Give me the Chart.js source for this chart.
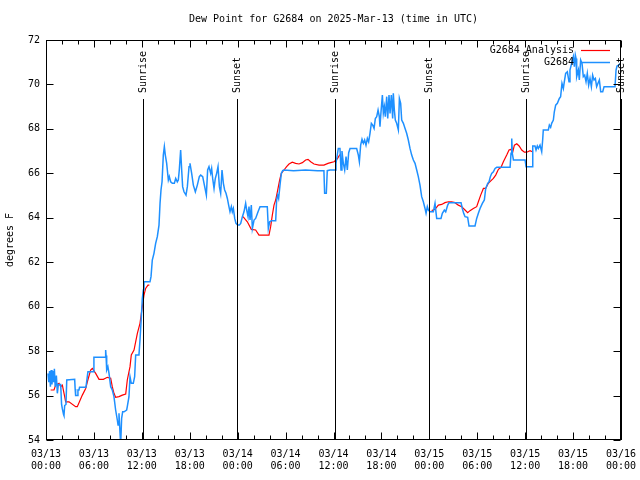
<!DOCTYPE html>
<html>
<head>
<meta charset="utf-8">
<script src="https://cdn.jsdelivr.net/npm/chart.js@4.4.1/dist/chart.umd.min.js"></script>
<style>
  html, body { margin: 0; padding: 0; background: #fff; }
  canvas { display: block; }
</style>
</head>
<body>
<canvas id="dew" width="640" height="480"></canvas>
<script>
const FONT = '"DejaVu Sans Mono", "Liberation Mono", monospace';
const TITLE = 'Dew Point for G2684 on 2025-Mar-13 (time in UTC)';

// x axis is hours since 03/13 00:00 UTC
const dayLabels = ['03/13', '03/14', '03/15', '03/16'];

const sunHours = [12.17, 23.96, 36.14, 47.98, 60.11, 71.98];
const sunLabels = ['Sunrise', 'Sunset', 'Sunrise', 'Sunset', 'Sunrise', 'Sunset'];

// G2684 observations
const obsHours = [
  0.25, 0.35, 0.45, 0.55, 0.65, 0.75, 0.85, 0.95, 1.05, 1.15, 1.3, 1.42, 1.55, 1.84, 1.95, 2.05, 2.2, 2.25, 2.34, 2.5,
  2.6, 3.59, 3.65, 3.71, 3.92, 4.0, 4.13, 4.2, 5.0, 5.09, 5.25, 5.93, 6.0, 7.39, 7.47, 7.52, 7.6, 7.75, 7.89, 8.1,
  8.3, 8.51, 8.72, 8.93, 9.02, 9.14, 9.27, 9.35, 9.47, 9.6, 9.77, 10.1, 10.18, 10.39, 10.52, 10.68, 10.93, 11.1, 11.23, 11.64,
  11.77, 11.94, 12.06, 12.19, 12.27, 13.02, 13.15, 13.31, 13.52, 13.73, 13.94, 14.15, 14.28, 14.4, 14.53, 14.69, 14.82, 14.94, 15.11, 15.32,
  15.44, 15.61, 15.82, 16.07, 16.24, 16.44, 16.57, 16.69, 16.86, 16.99, 17.11, 17.28, 17.53, 17.7, 17.91, 18.03, 18.24, 18.45, 18.7, 18.95,
  19.2, 19.37, 19.62, 19.87, 20.08, 20.24, 20.41, 20.62, 20.74, 20.87, 21.04, 21.2, 21.37, 21.54, 21.71, 21.87, 22.04, 22.21, 22.37, 22.54,
  22.71, 22.87, 23.04, 23.21, 23.33, 23.46, 23.63, 23.79, 24.0, 24.21, 24.38, 24.59, 24.79, 25.0, 25.13, 25.3, 25.42, 25.55, 25.71, 25.84,
  26.05, 26.25, 26.55, 26.8, 27.71, 27.84, 28.01, 28.22, 28.76, 28.88, 29.01, 29.13, 29.3, 29.47, 29.64, 29.8, 31.0, 32.5, 34.0, 34.8,
  34.89, 35.1, 35.22, 35.56, 36.19, 36.31, 36.6, 36.81, 36.94, 37.06, 37.23, 37.4, 37.57, 37.73, 37.9, 38.07, 38.9, 39.11, 39.24, 39.4,
  39.57, 39.74, 39.9, 40.07, 40.24, 40.4, 40.57, 40.74, 40.91, 41.08, 41.24, 41.41, 41.58, 41.74, 41.82, 41.95, 42.12, 42.24, 42.37, 42.49,
  42.66, 42.79, 42.95, 43.08, 43.24, 43.41, 43.49, 43.62, 43.74, 43.91, 44.12, 44.25, 44.41, 44.54, 44.75, 44.95, 45.16, 45.37, 45.58, 45.79,
  46.0, 46.21, 46.42, 46.62, 46.83, 47.04, 47.25, 47.46, 47.59, 47.75, 47.88, 48.09, 48.5, 48.71, 48.92, 49.46, 49.63, 49.88, 50.05, 50.3,
  50.46, 51.97, 52.13, 52.3, 52.47, 52.8, 52.97, 53.72, 53.93, 54.14, 54.35, 54.64, 54.89, 55.06, 55.31, 55.48, 55.64, 55.81, 56.02, 56.23,
  56.44, 58.11, 58.23, 58.32, 58.4, 58.53, 59.99, 60.11, 60.9, 60.95, 61.23, 61.36, 61.52, 61.65, 61.86, 62.07, 62.19, 62.27, 62.9, 63.03,
  63.19, 63.32, 63.53, 63.65, 63.82, 64.03, 64.28, 64.44, 64.61, 64.78, 64.9, 65.07, 65.28, 65.49, 65.61, 65.82, 66.03, 66.16, 66.28, 66.37,
  66.45, 66.66, 66.78, 66.95, 67.12, 67.28, 67.45, 67.62, 67.78, 67.95, 68.12, 68.29, 68.45, 68.62, 68.79, 68.95, 69.12, 69.29, 69.46, 69.71,
  69.88, 71.25, 71.38, 71.5, 71.71, 71.96
];
const obsDew = [
  57.0, 56.6, 57.1, 56.4, 57.15, 56.5, 57.1, 56.6, 57.2, 56.4, 56.9, 56.1, 56.5, 56.5, 55.6, 55.4, 55.15, 55.1, 55.55, 55.6,
  56.7, 56.73, 56.3, 56.0, 56.0, 56.25, 56.25, 56.37, 56.37, 56.62, 57.07, 57.07, 57.72, 57.72, 58.05, 57.8, 57.15, 57.3, 57.0, 56.4,
  56.25, 55.95, 55.35, 54.9, 54.67, 55.2, 54.3, 53.8, 54.97, 55.27, 55.27, 55.35, 55.5, 55.95, 56.85, 56.55, 56.55, 56.85, 57.83, 57.83,
  58.5, 59.55, 60.37, 60.75, 61.12, 61.12, 61.35, 62.1, 62.4, 62.85, 63.15, 63.67, 64.65, 65.25, 65.62, 66.82, 67.2, 66.82, 66.45, 65.7,
  65.85, 65.62, 65.55, 65.55, 65.77, 65.62, 65.7, 66.15, 67.05, 66.15, 65.4, 65.17, 65.02, 65.4, 66.3, 66.45, 66.0, 65.47, 65.17, 65.47,
  65.85, 65.92, 65.85, 65.4, 65.02, 66.15, 66.3, 66.0, 66.22, 65.77, 65.32, 65.77, 66.0, 66.3, 65.4, 65.1, 66.15, 65.55, 65.25, 65.1,
  64.87, 64.57, 64.27, 64.5, 64.27, 64.42, 63.97, 63.75, 63.67, 63.67, 63.75, 64.05, 64.27, 64.65, 64.35, 64.05, 64.5, 63.9, 64.57, 63.52,
  63.9, 63.97, 64.27, 64.5, 64.5, 63.52, 63.82, 63.87, 63.87, 64.8, 65.02, 64.87, 65.47, 66.0, 66.12, 66.15, 66.12, 66.15, 66.12, 66.12,
  65.1, 65.1, 66.12, 66.15, 66.15, 66.45, 67.12, 67.12, 66.15, 67.0, 66.45, 66.15, 66.75, 66.15, 66.93, 67.12, 67.12, 66.82, 66.52, 67.27,
  67.53, 67.35, 67.5, 67.27, 67.57, 67.42, 67.8, 68.25, 68.17, 68.02, 68.47, 68.55, 68.85, 68.55, 68.1, 68.77, 69.52, 68.7, 69.0, 68.55,
  69.45, 68.47, 69.52, 68.7, 69.52, 68.47, 69.6, 68.85, 68.4, 68.25, 67.95, 69.37, 69.15, 68.4, 68.25, 68.03, 67.8, 67.5, 67.12, 66.82,
  66.6, 66.45, 66.15, 65.85, 65.47, 64.95, 64.72, 64.42, 64.2, 64.5, 64.35, 64.27, 64.27, 64.65, 63.97, 63.97, 64.2, 64.35, 64.27, 64.57,
  64.68, 64.68, 64.42, 64.2, 64.05, 64.02, 63.63, 63.63, 63.97, 64.2, 64.42, 64.65, 64.8, 65.32, 65.55, 65.62, 65.85, 66.0, 66.07, 66.22,
  66.27, 66.27, 66.9, 67.57, 66.87, 66.6, 66.6, 66.3, 66.3, 67.23, 67.23, 67.05, 67.23, 67.12, 67.27, 66.97, 67.5, 67.95, 67.95, 68.17,
  68.07, 68.25, 68.4, 68.77, 69.07, 69.15, 69.37, 69.45, 70.05, 69.82, 70.12, 70.5, 70.57, 70.12, 70.65, 70.95, 71.25, 70.8, 71.32, 71.17,
  70.35, 70.65, 70.2, 71.1, 70.95, 70.35, 70.42, 70.12, 70.5, 69.97, 70.27, 69.9, 70.42, 70.2, 70.27, 69.9, 70.05, 70.2, 69.67, 69.67,
  69.9, 69.9, 70.65, 70.83, 70.87, 70.95
];

// G2684 Analysis (null = no analysis)
const anaHours = [
  0.58, 1.0, 1.21, 1.63, 1.84, 2.05, 2.34, 2.46, 2.88, 3.71, 3.92, 4.55, 4.97, 5.18, 5.59, 5.8, 6.22, 6.64, 7.18, 7.68,
  8.1, 8.3, 8.51, 8.72, 9.14, 9.56, 9.98, 10.18, 10.52, 10.68, 11.02, 11.44, 11.77, 12.06, 12.27, 12.48, 12.77, 12.94, 18.0,
  24.67, 25.21, 25.71, 26.25, 26.67, 27.92, 28.13, 28.34, 28.55, 28.76, 28.97, 29.26, 29.47, 29.8, 30.13, 30.43, 30.84, 31.26, 31.68, 32.1,
  32.51, 32.81, 33.14, 33.56, 34.19, 34.8, 35.31, 35.64, 36.06, 36.48, 36.8, 42.0,
  48.29, 48.71, 49.13, 49.55, 49.96, 50.38, 50.8, 51.21, 51.63, 52.05, 52.47, 52.8, 53.09, 53.51, 53.93, 54.14, 54.43, 54.77, 55.06, 55.39,
  55.73, 56.02, 56.31, 56.65, 56.98, 57.27, 57.69, 57.98, 58.23, 58.4, 58.65, 58.95, 59.24, 59.57, 59.91, 60.2, 60.61, 60.9
];
const anaDew = [
  56.25, 56.25, 56.47, 56.55, 56.4, 56.47, 55.95, 55.72, 55.72, 55.5, 55.5, 56.02, 56.32, 56.62, 57.15, 57.22, 57.0, 56.73, 56.73, 56.82,
  56.78, 56.4, 56.1, 55.92, 55.95, 56.02, 56.07, 56.7, 57.3, 57.83, 58.05, 58.8, 59.25, 60.0, 60.52, 60.82, 60.97, 60.97, null,
  64.05, 63.82, 63.48, 63.45, 63.22, 63.22, 63.6, 64.12, 64.57, 64.8, 65.17, 65.7, 66.0, 66.15, 66.3, 66.42, 66.5, 66.45, 66.42, 66.48,
  66.6, 66.63, 66.52, 66.42, 66.37, 66.37, 66.45, 66.48, 66.52, 66.65, 66.85, null,
  64.32, 64.38, 64.57, 64.6, 64.68, 64.72, 64.72, 64.68, 64.57, 64.5, 64.35, 64.23, 64.32, 64.42, 64.5, 64.72, 65.02, 65.32, 65.32, 65.55,
  65.67, 65.77, 65.92, 66.18, 66.27, 66.52, 66.82, 67.05, 67.08, 66.9, 67.27, 67.33, 67.23, 67.05, 66.95, 66.95, 67.02, 66.97
];

const pad2 = n => (n < 10 ? '0' : '') + n;

// gnuplot-style frame: box, inward ticks, sun lines, title, key
const framePlugin = {
  id: 'frame',
  afterDatasetsDraw(chart) {
    const { ctx, chartArea: a, scales: { x, y } } = chart;
    ctx.save();
    ctx.strokeStyle = '#000';
    ctx.fillStyle = '#000';
    ctx.lineWidth = 1;
    ctx.font = '10px ' + FONT;

    // sunrise / sunset markers
    sunHours.forEach((h, i) => {
      const px = Math.round(x.getPixelForValue(h)) + 0.5;
      ctx.beginPath();
      ctx.moveTo(px, 99);
      ctx.lineTo(px, a.bottom);
      ctx.stroke();
      ctx.save();
      ctx.translate(px, 93);
      ctx.rotate(-Math.PI / 2);
      ctx.textAlign = 'left';
      ctx.textBaseline = 'middle';
      ctx.fillText(sunLabels[i], 0, 0);
      ctx.restore();
    });

    // border
    const L = a.left + 0.5, R = a.right - 0.5, T = a.top + 0.5, B = a.bottom - 0.5;
    ctx.strokeRect(L, T, R - L, B - T);

    ctx.beginPath();
    for (let h = 0; h <= 72; h += 2) {
      const px = Math.round(x.getPixelForValue(h)) + 0.5;
      const len = h % 6 === 0 ? 7 : 4;
      ctx.moveTo(px, B); ctx.lineTo(px, B - len);
      ctx.moveTo(px, T); ctx.lineTo(px, T + len);
    }
    for (let v = 54; v <= 72; v += 2) {
      const py = Math.round(y.getPixelForValue(v)) + 0.5;
      ctx.moveTo(L, py); ctx.lineTo(L + 7, py);
      ctx.moveTo(R, py); ctx.lineTo(R - 7, py);
    }
    ctx.stroke();

    // title
    ctx.textAlign = 'center';
    ctx.textBaseline = 'middle';
    ctx.fillText(TITLE, (a.left + a.right) / 2, 19);

    // key, top right inside the frame
    [0, 1].forEach(i => {
      const ds = chart.data.datasets[i];
      const ky = 50 + i * 12;
      ctx.textAlign = 'right';
      ctx.fillStyle = '#000';
      ctx.fillText(ds.label, 574, ky);
      ctx.strokeStyle = ds.borderColor;
      ctx.lineWidth = ds.borderWidth;
      ctx.beginPath();
      ctx.moveTo(581, ky + 0.5);
      ctx.lineTo(610, ky + 0.5);
      ctx.stroke();
    });
    ctx.restore();
  }
};

const tickFont = { family: FONT, size: 10, lineHeight: 1.25 };

new Chart(document.getElementById('dew'), {
  type: 'line',
  data: {
    datasets: [{
      label: 'G2684 Analysis',
      data: anaHours.map((h, i) => ({ x: h, y: anaDew[i] })),
      borderColor: '#ff0000',
      borderWidth: 1.2,
      pointRadius: 0,
      spanGaps: false,
      order: 1
    }, {
      label: 'G2684',
      data: obsHours.map((h, i) => ({ x: h, y: obsDew[i] })),
      borderColor: '#1e90ff',
      borderWidth: 1.5,
      pointRadius: 0,
      order: 0
    }]
  },
  options: {
    responsive: false,
    animation: false,
    events: [],
    layout: { padding: { top: 40, right: 19, left: 0, bottom: 0 } },
    plugins: {
      legend: { display: false },
      tooltip: { enabled: false },
      title: { display: false }
    },
    scales: {
      x: {
        type: 'linear',
        min: 0,
        max: 72,
        afterFit: s => { s.height = 40; s.paddingLeft = 0; s.paddingRight = 0; },
        grid: { display: false, drawTicks: false },
        border: { display: false },
        ticks: {
          stepSize: 6,
          autoSkip: false,
          maxRotation: 0,
          padding: 8,
          color: '#000',
          font: tickFont,
          callback: v => [dayLabels[Math.floor(v / 24)], pad2(v % 24) + ':00']
        }
      },
      y: {
        min: 54,
        max: 72,
        afterFit: s => { s.width = 46; },
        grid: { display: false, drawTicks: false },
        border: { display: false },
        ticks: { stepSize: 2, padding: 6, color: '#000', font: tickFont },
        title: {
          display: true,
          text: 'degrees F',
          color: '#000',
          font: { family: FONT, size: 10 },
          padding: { top: 4, bottom: 4 }
        }
      }
    }
  },
  plugins: [framePlugin]
});
</script>
</body>
</html>
